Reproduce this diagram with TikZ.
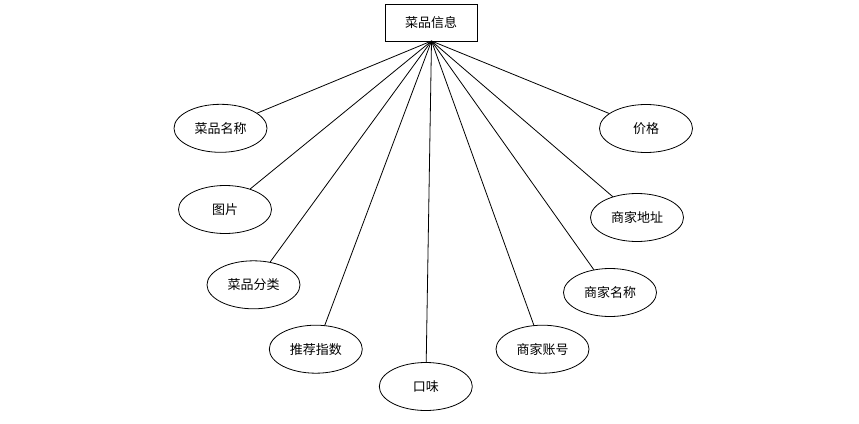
\documentclass[tikz,border=0pt]{standalone}
\usepackage{fontspec}
\newfontfamily\cjk{Noto Sans CJK SC}
\usetikzlibrary{shapes.geometric}
\begin{document}
\begin{tikzpicture}[x=1pt,y=-1pt,
  ent/.style={draw,line width=0.9pt,minimum width=92pt,minimum height=37pt,inner sep=0pt,font=\cjk\fontsize{13pt}{15pt}\selectfont},
  attr/.style={draw,line width=0.8pt,ellipse,minimum width=93pt,minimum height=48pt,inner sep=0pt,font=\cjk\fontsize{13pt}{15pt}\selectfont},
  link/.style={line width=0.8pt}]
\useasboundingbox (0,0) rectangle (859,423);
\node[ent] (e) at (431,22.5) {菜品信息};
\coordinate (hub) at (431.5,41);
\node[attr] (a1) at (220.5,128.3) {菜品名称};
\node[attr] (a2) at (225,209.5) {图片};
\node[attr] (a3) at (253.5,284.8) {菜品分类};
\node[attr] (a4) at (315.8,349.2) {推荐指数};
\node[attr] (a5) at (425.8,386.5) {口味};
\node[attr] (a6) at (542.5,349.2) {商家账号};
\node[attr] (a7) at (610,292.5) {商家名称};
\node[attr] (a8) at (637,217.5) {商家地址};
\node[attr] (a9) at (646,128.5) {价格};
\foreach \n in {a1,a2,a3,a4,a5,a6,a7,a8,a9}
  \draw[link] (hub) -- (\n);
\end{tikzpicture}
\end{document}
